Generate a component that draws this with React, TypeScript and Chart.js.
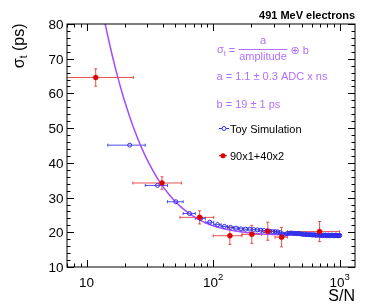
import React, { useEffect, useRef } from "react";
import { Chart, registerables } from "chart.js";

Chart.register(...registerables);

// ---- data ----
const toyX = [21.9, 36.3, 50.7, 65.1, 79.5, 93.9, 108.3, 122.7, 137.1, 151.5, 165.9, 180.3, 194.7, 209.1, 223.5, 237.9, 252.3, 266.7, 281.1, 295.5, 309.9, 324.3, 338.7, 353.1, 367.5, 381.9, 396.3, 410.7, 425.1, 439.5, 453.9, 468.3, 482.7, 497.1, 511.5, 525.9, 540.3, 554.7, 569.1, 583.5, 597.9, 612.3, 626.7, 641.1, 655.5, 669.9, 684.3, 698.7, 713.1, 727.5, 741.9, 756.3, 770.7, 785.1, 799.5, 813.9, 828.3, 842.7, 857.1, 871.5, 885.9, 900.3, 914.7, 929.1, 943.5, 957.9, 972.3, 986.7, 1001.1];
const toyY = [45.1, 33.5, 28.8, 25.4, 24.0, 22.9, 22.2, 21.7, 21.4, 21.2,
  21.0, 20.9, 20.9, 20.8, 20.7, 20.6, 20.5, 20.4, 20.3, 20.2,
  20.2, 20.1, 19.9, 19.5, 19.4, 19.6, 19.7, 19.8, 19.7, 19.7,
  19.6, 19.7, 19.6, 19.5, 19.4, 19.5, 19.3, 19.4, 19.3, 19.3,
  19.3, 19.2, 19.3, 19.2, 19.1, 19.3, 19.2, 19.1, 19.2, 19.0,
  19.2, 19.1, 19.2, 19.0, 19.1, 19.2, 19.0, 19.1, 19.1, 19.2,
  19.0, 19.1, 19.0, 19.2, 19.1, 19.0, 19.1, 19.0, 19.1];
const toyHalfBin = 7.2;

const dataX = [11.8, 39.4, 78.2, 135.5, 202, 270, 347, 693];
const dataY = [64.6, 34.2, 24.3, 19.0, 19.4, 20.3, 18.6, 20.2];
const dataXLow = [5.9, 23.2, 54.7, 100, 169, 241, 308, 386];
const dataXHigh = [23.4, 56.1, 101, 169, 241, 308, 386, 1000];
const dataYErr = [2.5, 1.8, 1.9, 2.5, 2.6, 2.6, 2.8, 2.9];

const fitX = [13.8, 14.5, 15, 16, 17, 18, 19, 20, 22, 24, 26, 28, 30, 33, 36, 40, 45, 50, 55, 60, 70, 80, 90, 100, 115, 130, 150, 170, 200, 240, 300, 400, 500, 700, 1000];
const fitY = [81.25, 77.53, 75.11, 70.72, 66.87, 63.47, 60.43, 57.72, 53.07, 49.23, 46.02, 43.32, 41.0, 38.11, 35.75, 33.22, 30.79, 28.92, 27.46, 26.29, 24.57, 23.38, 22.53, 21.9, 21.23, 20.77, 20.34, 20.05, 19.77, 19.53, 19.34, 19.19, 19.12, 19.06, 19.03];

const yTickValues = [10, 20, 30, 40, 50, 60, 70, 80];
const yMinorStep = 2;
const xTickValues = [10, 100, 1000];
const xTickBase = ["10", "10", "10"];
const xTickExp = ["", "2", "3"];

const X_MIN = 7;
const X_MAX = 1320;
const Y_MIN = 10;
const Y_MAX = 80;

const FONT = '"Liberation Sans", Arial, Helvetica, "DejaVu Sans", sans-serif';
const PURPLE_TEXT = "#b070ff";
const PURPLE_LINE = "#a24cff";
const BLUE = "rgb(45,45,235)";
const RED = "rgb(220,0,0)";

const decorPlugin = {
  id: "rootDecor",
  beforeDatasetsDraw(chart: any) {
    const { ctx, chartArea, scales } = chart;
    const xs = scales.x, ys = scales.y;
    ctx.save();
    ctx.beginPath();
    ctx.rect(chartArea.left, chartArea.top, chartArea.right - chartArea.left, chartArea.bottom - chartArea.top);
    ctx.clip();
    ctx.lineWidth = 1;
    // toy x-error bars
    ctx.strokeStyle = "rgba(45,45,235,0.85)";
    for (let i = 0; i < toyX.length; i++) {
      const x1 = xs.getPixelForValue(toyX[i] - toyHalfBin);
      const x2 = xs.getPixelForValue(toyX[i] + toyHalfBin);
      const py = ys.getPixelForValue(toyY[i]);
      ctx.beginPath();
      ctx.moveTo(x1, py); ctx.lineTo(x2, py);
      ctx.moveTo(x1, py - 1.5); ctx.lineTo(x1, py + 1.5);
      ctx.moveTo(x2, py - 1.5); ctx.lineTo(x2, py + 1.5);
      ctx.stroke();
    }
    // data error bars
    ctx.strokeStyle = "rgba(225,40,40,0.8)";
    for (let i = 0; i < dataX.length; i++) {
      const x1 = xs.getPixelForValue(dataXLow[i]);
      const x2 = xs.getPixelForValue(dataXHigh[i]);
      const px = xs.getPixelForValue(dataX[i]);
      const py = ys.getPixelForValue(dataY[i]);
      const y1 = ys.getPixelForValue(dataY[i] + dataYErr[i]);
      const y2 = ys.getPixelForValue(dataY[i] - dataYErr[i]);
      ctx.beginPath();
      ctx.moveTo(x1, py); ctx.lineTo(x2, py);
      ctx.moveTo(x1, py - 1.5); ctx.lineTo(x1, py + 1.5);
      ctx.moveTo(x2, py - 1.5); ctx.lineTo(x2, py + 1.5);
      ctx.moveTo(px, y1); ctx.lineTo(px, y2);
      ctx.moveTo(px - 1.5, y1); ctx.lineTo(px + 1.5, y1);
      ctx.moveTo(px - 1.5, y2); ctx.lineTo(px + 1.5, y2);
      ctx.stroke();
    }
    ctx.restore();
  },
  afterDraw(chart: any) {
    const { ctx, chartArea, scales } = chart;
    const xs = scales.x, ys = scales.y;
    const { left, right, top, bottom } = chartArea;
    ctx.save();
    // frame
    ctx.strokeStyle = "#000";
    ctx.lineWidth = 1;
    ctx.strokeRect(left, top, right - left, bottom - top);
    // y ticks
    ctx.beginPath();
    for (let v = Y_MIN; v <= Y_MAX + 0.001; v += yMinorStep) {
      const major = yTickValues.includes(Math.round(v));
      const len = major ? 7 : 3.5;
      const py = Math.round(ys.getPixelForValue(v)) + 0.5;
      ctx.moveTo(left, py); ctx.lineTo(left + len, py);
      ctx.moveTo(right, py); ctx.lineTo(right - len, py);
    }
    // x ticks (log)
    for (let d = 1; d <= 1000; d *= 10) {
      for (let m = 1; m <= 9; m++) {
        const v = m * d;
        if (v < X_MIN || v > X_MAX) continue;
        const len = m === 1 ? 7 : 3.5;
        const px = Math.round(xs.getPixelForValue(v)) + 0.5;
        ctx.moveTo(px, bottom); ctx.lineTo(px, bottom - len);
        ctx.moveTo(px, top); ctx.lineTo(px, top + len);
      }
    }
    ctx.stroke();

    // y tick labels
    ctx.fillStyle = "#000";
    ctx.font = `13.5px ${FONT}`;
    ctx.textAlign = "right";
    ctx.textBaseline = "alphabetic";
    for (const v of yTickValues) {
      ctx.fillText(String(v), left - 3.5, ys.getPixelForValue(v) + 5);
    }
    // x tick labels
    for (let i = 0; i < xTickValues.length; i++) {
      const px = xs.getPixelForValue(xTickValues[i]);
      ctx.font = `13.5px ${FONT}`;
      const wb = ctx.measureText(xTickBase[i]).width;
      ctx.font = `9.5px ${FONT}`;
      const we = xTickExp[i] ? ctx.measureText(xTickExp[i]).width : 0;
      const x0 = px - (wb + we) / 2;
      ctx.textAlign = "left";
      ctx.font = `13.5px ${FONT}`;
      ctx.fillText(xTickBase[i], x0, 286.7);
      if (xTickExp[i]) {
        ctx.font = `9.5px ${FONT}`;
        ctx.fillText(xTickExp[i], x0 + wb, 280);
      }
    }
    // x title
    ctx.font = `16px ${FONT}`;
    ctx.textAlign = "right";
    ctx.fillText("S/N", right, 301);

    // y title (rotated)
    ctx.save();
    ctx.translate(24, top - 0.5);
    ctx.rotate(-Math.PI / 2);
    ctx.textAlign = "left";
    ctx.font = `16px ${FONT}`;
    const wSig = ctx.measureText("\u03c3").width;
    const wRest = ctx.measureText(" (ps)").width;
    ctx.font = `10px ${FONT}`;
    const wSub = ctx.measureText("t").width;
    const total = wSig + wSub + wRest;
    let cx = -total;
    ctx.font = `16px ${FONT}`;
    ctx.fillText("\u03c3", cx, 0); cx += wSig;
    ctx.font = `10px ${FONT}`;
    ctx.fillText("t", cx, 3); cx += wSub;
    ctx.font = `16px ${FONT}`;
    ctx.fillText(" (ps)", cx, 0);
    ctx.restore();

    // title
    ctx.font = `bold 11px ${FONT}`;
    ctx.textAlign = "right";
    ctx.fillStyle = "#000";
    ctx.fillText("491 MeV electrons", right, 19.3);

    // formula
    ctx.fillStyle = PURPLE_TEXT;
    ctx.textAlign = "left";
    let fx = 217;
    ctx.font = `11px ${FONT}`;
    ctx.fillText("\u03c3", fx, 53); fx += ctx.measureText("\u03c3").width;
    ctx.font = `7px ${FONT}`;
    ctx.fillText("t", fx, 55.5); fx += ctx.measureText("t").width;
    ctx.font = `11px ${FONT}`;
    ctx.fillText(" =", fx, 54);
    ctx.strokeStyle = PURPLE_TEXT;
    ctx.lineWidth = 1;
    ctx.beginPath();
    ctx.moveTo(238.5, 49.5); ctx.lineTo(287.5, 49.5);
    ctx.stroke();
    ctx.textAlign = "center";
    ctx.fillText("a", 263, 44);
    ctx.fillText("amplitude", 263, 59.5);
    ctx.textAlign = "left";
    ctx.fillText("\u2295 b", 290.5, 54);
    ctx.fillText("a = 1.1 \u00b1 0.3 ADC x ns", 216.5, 80);
    ctx.fillText("b = 19 \u00b1 1 ps", 216.5, 107.5);

    // legend
    ctx.fillStyle = "#000";
    ctx.font = `11px ${FONT}`;
    ctx.fillText("Toy Simulation", 230, 132.5);
    ctx.fillText("90x1+40x2", 230, 159.5);
    ctx.strokeStyle = BLUE;
    ctx.lineWidth = 1;
    ctx.beginPath();
    ctx.moveTo(219, 128.5); ctx.lineTo(229, 128.5);
    ctx.stroke();
    ctx.beginPath();
    ctx.fillStyle = "#fff";
    ctx.arc(224, 128.5, 2, 0, Math.PI * 2);
    ctx.fill();
    ctx.stroke();
    ctx.strokeStyle = RED;
    ctx.beginPath();
    ctx.moveTo(219, 155.7); ctx.lineTo(227, 155.7);
    ctx.stroke();
    ctx.fillStyle = RED;
    ctx.beginPath();
    ctx.arc(223, 155.7, 2.5, 0, Math.PI * 2);
    ctx.fill();
    ctx.restore();
  },
};

export default function App() {
  const ref = useRef<HTMLCanvasElement | null>(null);
  useEffect(() => {
    if (!ref.current) return;
    const chart = new Chart(ref.current, {
      type: "scatter",
      data: {
        datasets: [
          {
            label: "90x1+40x2",
            data: dataX.map((x, i) => ({ x, y: dataY[i] })),
            pointStyle: "circle",
            pointRadius: 2.5,
            pointBackgroundColor: RED,
            pointBorderColor: RED,
            pointBorderWidth: 0.5,
            showLine: false,
          },
          {
            label: "Toy Simulation",
            data: toyX.map((x, i) => ({ x, y: toyY[i] })),
            pointStyle: "circle",
            pointRadius: 2,
            pointBackgroundColor: "rgba(0,0,0,0)",
            pointBorderColor: BLUE,
            pointBorderWidth: 1,
            showLine: false,
          },
          {
            label: "fit",
            data: fitX.map((x, i) => ({ x, y: fitY[i] })),
            showLine: true,
            borderColor: PURPLE_LINE,
            borderWidth: 1.5,
            pointRadius: 0,
            cubicInterpolationMode: "monotone",
          },
        ],
      },
      options: {
        animation: false,
        responsive: false,
        devicePixelRatio: 1,
        events: [],
        layout: { padding: { left: 67, right: 19, top: 24, bottom: 40 } },
        plugins: { legend: { display: false }, tooltip: { enabled: false } },
        scales: {
          x: { type: "logarithmic", min: X_MIN, max: X_MAX, display: false },
          y: { type: "linear", min: Y_MIN, max: Y_MAX, display: false },
        },
      },
      plugins: [decorPlugin],
    } as any);
    return () => chart.destroy();
  }, []);
  return (
    <div style={{ position: "fixed", left: 0, top: 0, width: 374, height: 307, background: "#fff" }}>
      <canvas ref={ref} width={374} height={307} style={{ display: "block" }} />
    </div>
  );
}
